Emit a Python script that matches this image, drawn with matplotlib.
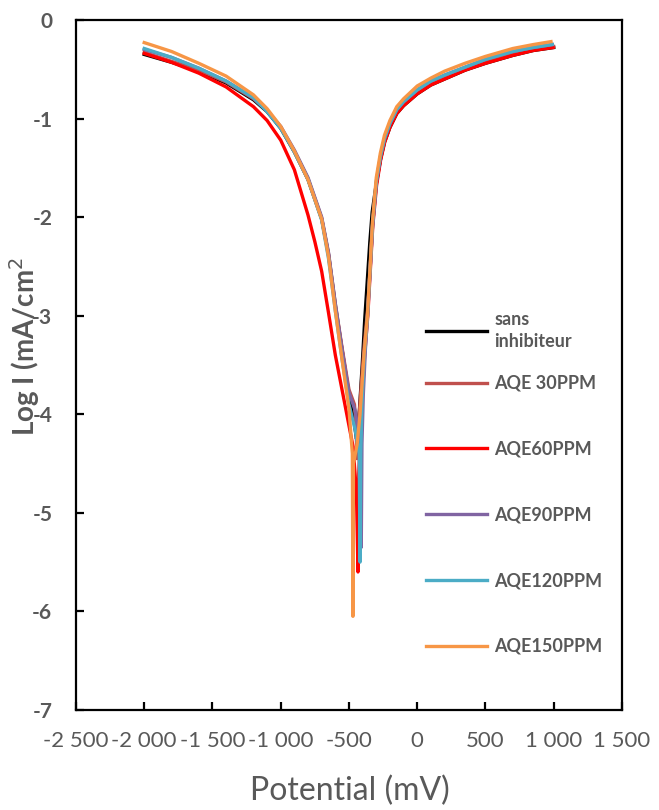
import matplotlib
matplotlib.use("Agg")
import matplotlib.pyplot as plt
from matplotlib.ticker import FuncFormatter, MultipleLocator

plt.rcParams["font.family"] = ["Lato", "DejaVu Sans"]

# Potential (mV) and log current density for each curve.
E_sans = [-2000, -1800, -1600, -1400, -1200, -1100, -1000, -900, -800, -700,
          -650, -600, -550, -500, -460, -445, -440, -423, -403, -385, -366,
          -347, -330, -300, -270, -240, -200, -150, -100, 0, 100, 200, 350,
          500, 700, 850, 1000]
I_sans = [-0.35, -0.43, -0.52, -0.64, -0.81, -0.93, -1.1, -1.34, -1.62, -2.02,
          -2.38, -2.9, -3.35, -3.8, -4.1, -4.25, -4.2, -3.95, -3.5, -3.05,
          -2.65, -2.25, -1.95, -1.66, -1.42, -1.24, -1.09, -0.95, -0.87, -0.75,
          -0.66, -0.6, -0.51, -0.44, -0.36, -0.31, -0.28]

E_30 = [-2000, -1800, -1600, -1400, -1200, -1100, -1000, -900, -800, -700,
        -650, -600, -550, -500, -460, -448, -442, -430, -410, -388, -364,
        -344, -327, -299, -269, -239, -200, -150, -100, 0, 100, 200, 350,
        500, 700, 850, 1000]
I_30 = [-0.33, -0.42, -0.51, -0.63, -0.8, -0.92, -1.09, -1.33, -1.61, -2.01,
        -2.37, -2.88, -3.33, -3.75, -3.9, -4.1, -4.45, -4.1, -3.7, -3.3,
        -2.95, -2.5, -2.08, -1.66, -1.41, -1.23, -1.08, -0.94, -0.86, -0.74,
        -0.65, -0.59, -0.5, -0.43, -0.35, -0.3, -0.27]

E_60 = [-2000, -1800, -1600, -1400, -1200, -1100, -1000, -900, -800, -750,
        -700, -650, -600, -530, -470, -445, -434, -428, -410, -385, -362,
        -342, -326, -298, -268, -238, -200, -150, -100, 0, 100, 200, 350,
        500, 700, 850, 995]
I_60 = [-0.34, -0.43, -0.54, -0.68, -0.88, -1.02, -1.22, -1.52, -1.98, -2.25,
        -2.55, -2.97, -3.4, -3.9, -4.33, -4.8, -5.6, -4.6, -4.0, -3.4, -3.0,
        -2.5, -2.1, -1.68, -1.42, -1.24, -1.09, -0.95, -0.87, -0.75, -0.66,
        -0.6, -0.51, -0.44, -0.36, -0.31, -0.28]

E_90 = [-2000, -1800, -1600, -1400, -1200, -1100, -1000, -900, -800, -700,
        -650, -600, -550, -500, -455, -420, -410, -405, -395, -380, -362,
        -343, -326, -298, -268, -238, -200, -150, -100, 0, 100, 200, 350,
        500, 700, 850, 990]
I_90 = [-0.30, -0.38, -0.49, -0.62, -0.79, -0.92, -1.08, -1.32, -1.6, -2.0,
        -2.36, -2.88, -3.35, -3.78, -3.96, -4.3, -5.35, -4.3, -3.8, -3.35,
        -2.95, -2.48, -2.06, -1.63, -1.38, -1.2, -1.05, -0.91, -0.83, -0.71,
        -0.62, -0.56, -0.48, -0.4, -0.32, -0.28, -0.25]

E_120 = [-2000, -1800, -1600, -1400, -1200, -1100, -1000, -900, -800, -700,
         -650, -600, -550, -500, -456, -425, -419, -414, -405, -388, -364,
         -344, -327, -299, -269, -239, -200, -150, -100, 0, 100, 200, 350,
         500, 700, 850, 990]
I_120 = [-0.29, -0.38, -0.49, -0.62, -0.79, -0.93, -1.1, -1.34, -1.62, -2.03,
         -2.42, -2.95, -3.45, -3.9, -4.15, -4.4, -5.5, -4.4, -3.9, -3.4, -3.0,
         -2.5, -2.07, -1.63, -1.38, -1.2, -1.05, -0.91, -0.83, -0.71, -0.62,
         -0.56, -0.48, -0.4, -0.32, -0.28, -0.25]

E_150 = [-2000, -1800, -1600, -1400, -1200, -1100, -1000, -900, -800, -700,
         -650, -600, -550, -500, -475, -471, -467, -440, -419, -390, -365,
         -345, -328, -300, -270, -240, -200, -150, -100, 0, 100, 200, 350,
         500, 700, 850, 980]
I_150 = [-0.23, -0.32, -0.44, -0.57, -0.76, -0.9, -1.08, -1.33, -1.62, -2.02,
         -2.4, -2.95, -3.45, -3.95, -4.4, -6.05, -4.5, -4.3, -4.0, -3.4, -3.0,
         -2.5, -2.05, -1.6, -1.35, -1.17, -1.02, -0.88, -0.8, -0.67, -0.59,
         -0.52, -0.44, -0.37, -0.29, -0.25, -0.22]

labels = ["sans\ninhibiteur", "AQE 30PPM", "AQE60PPM", "AQE90PPM",
          "AQE120PPM", "AQE150PPM"]
colors = ["#000000", "#C0504D", "#FF0000", "#8064A2", "#4BACC6", "#F79646"]
curves = [(E_sans, I_sans), (E_30, I_30), (E_60, I_60), (E_90, I_90),
          (E_120, I_120), (E_150, I_150)]

grey = "#595959"

fig = plt.figure(figsize=(6.59, 8.10), dpi=100)
ax = fig.add_axes([0.1153, 0.1235, 0.8285, 0.8519])

lines = []
for (E, I), label, color in zip(curves, labels, colors):
    ln, = ax.plot(E, I, color=color, lw=2.4, label=label,
                  solid_joinstyle="round")
    lines.append(ln)

ax.set_xlim(-2500, 1500)
ax.set_ylim(-7, 0)
ax.xaxis.set_major_locator(MultipleLocator(500))
ax.yaxis.set_major_locator(MultipleLocator(1))
ax.xaxis.set_major_formatter(
    FuncFormatter(lambda v, p: f"{v:,.0f}".replace(",", " ")))
ax.yaxis.set_major_formatter(FuncFormatter(lambda v, p: f"{v:.0f}"))

for side in ax.spines.values():
    side.set_linewidth(1.6)
    side.set_color("black")
ax.tick_params(direction="in", length=6, width=1.6, top=False, right=False)
ax.tick_params(axis="x", pad=15, labelsize=16, labelcolor=grey)
ax.tick_params(axis="y", pad=17, labelsize=15, labelcolor=grey)
for t in ax.get_yticklabels():
    t.set_fontweight("bold")

fig.text(0.5313, 0.024, "Potential (mV)", ha="center", va="center",
         fontsize=23, color=grey)
fig.text(0.038, 0.572, "Log I (mA/cm$^2$", ha="center", va="center",
         rotation=90, fontsize=20, fontweight="bold", color=grey)

# Legend: first (two-line) entry apart so the rest keep Excel's spacing.
leg_opts = dict(loc="upper left", frameon=False, fontsize=13,
                handlelength=3.4, handletextpad=0.4, labelspacing=2.7,
                borderpad=0, borderaxespad=0)
leg1 = ax.legend(handles=lines[:1], bbox_to_anchor=(0.641, 0.578),
                 **leg_opts)
ax.add_artist(leg1)
leg2 = ax.legend(handles=lines[1:], bbox_to_anchor=(0.641, 0.4855),
                 **leg_opts)
for leg in (leg1, leg2):
    for t in leg.get_texts():
        t.set_color(grey)
        t.set_fontweight("bold")
leg1.get_texts()[0].set_linespacing(1.35)

fig.savefig("out.png", dpi=100)
